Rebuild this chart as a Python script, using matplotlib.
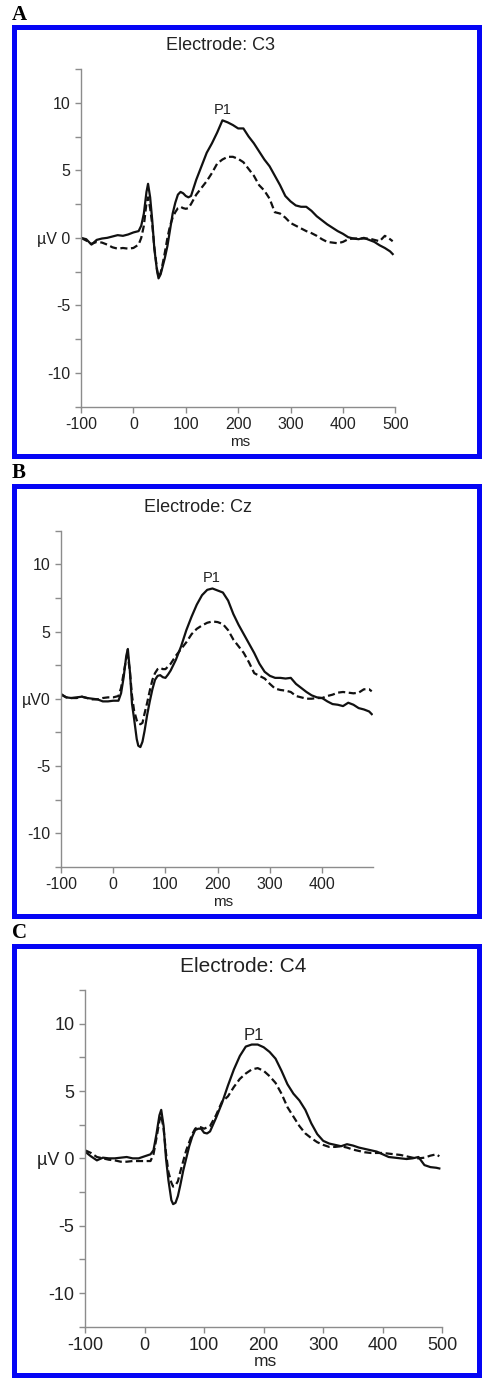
import matplotlib
matplotlib.use("Agg")
import matplotlib.pyplot as plt
from matplotlib.patches import Rectangle

W, H = 483, 1379
plt.rcParams['font.family'] = ['Liberation Sans', 'DejaVu Sans']

# time axis shared by all three electrodes (ms)
time_ms = [-100, -90, -80, -70, -60, -50, -40, -30, -20, -10, 0, 10, 15, 20, 25, 28, 32, 36,
           40, 45, 48, 52, 56, 60, 65, 70, 75, 80, 85, 90, 95, 100, 105, 110, 120, 130, 140,
           150, 160, 170, 180, 190, 200, 210, 220, 230, 240, 250, 260, 270, 280, 290, 300,
           310, 320, 330, 340, 350, 360, 370, 380, 390, 400, 410, 420, 430, 440, 450, 460,
           470, 480, 490, 495]

# amplitudes (uV)
c3_solid = [0.0, -0.1, -0.5, -0.15, -0.05, 0.0, 0.1, 0.2, 0.15, 0.25, 0.4, 0.5, 0.9, 1.8, 3.4,
            4.0, 3.0, 1.3, -0.8, -2.4, -3.0, -2.7, -2.1, -1.5, -0.6, 0.6, 1.8, 2.6, 3.2, 3.4,
            3.3, 3.1, 3.0, 3.1, 4.3, 5.3, 6.3, 7.0, 7.8, 8.7, 8.55, 8.35, 8.1, 8.1, 7.5, 7.0,
            6.4, 5.8, 5.3, 4.6, 3.9, 3.1, 2.7, 2.4, 2.3, 2.3, 2.0, 1.6, 1.3, 1.0, 0.75, 0.5,
            0.3, 0.05, -0.05, -0.1, 0.0, -0.15, -0.3, -0.55, -0.75, -1.0, -1.2]
c3_dash = [0.0, -0.2, -0.45, -0.3, -0.35, -0.5, -0.7, -0.8, -0.75, -0.8, -0.75, -0.5, 0.0, 0.9,
           2.6, 3.0, 2.2, 1.0, -0.7, -2.3, -2.9, -2.6, -1.9, -1.1, 0.0, 0.9, 1.5, 1.9, 2.2, 2.3,
           2.2, 2.15, 2.2, 2.5, 3.2, 3.7, 4.2, 4.8, 5.5, 5.8, 6.0, 6.0, 5.85, 5.6, 5.1, 4.6,
           3.9, 3.5, 2.9, 1.9, 1.8, 1.5, 1.1, 0.9, 0.7, 0.5, 0.35, 0.15, -0.1, -0.3, -0.35,
           -0.4, -0.3, -0.1, -0.05, -0.05, -0.05, -0.05, -0.15, -0.25, 0.15, -0.1, -0.25]

cz_solid = [0.35, 0.1, 0.05, 0.1, 0.15, 0.05, 0.0, -0.05, -0.2, -0.2, -0.15, -0.15, 0.4, 1.6,
            3.2, 3.7, 2.0, -0.4, -1.5, -3.0, -3.5, -3.6, -3.2, -2.4, -1.2, -0.2, 0.7, 1.4, 1.7,
            1.75, 1.6, 1.55, 1.8, 2.1, 2.9, 3.9, 5.1, 6.1, 7.0, 7.7, 8.1, 8.2, 8.05, 7.9, 7.3,
            6.3, 5.5, 4.8, 4.1, 3.4, 2.6, 2.0, 1.7, 1.55, 1.55, 1.5, 1.55, 1.1, 0.8, 0.5, 0.25,
            0.1, 0.05, -0.2, -0.4, -0.45, -0.55, -0.3, -0.45, -0.7, -0.8, -0.95, -1.15]
cz_dash = [0.3, 0.1, 0.05, 0.05, 0.15, 0.05, -0.05, -0.05, 0.05, 0.1, 0.1, 0.2, 0.8, 1.9, 3.0,
           3.2, 2.0, 0.2, -0.9, -1.6, -1.85, -1.9, -1.8, -1.1, -0.3, 0.6, 1.4, 1.9, 2.2, 2.3,
           2.2, 2.2, 2.4, 2.6, 3.2, 3.7, 4.2, 4.8, 5.2, 5.45, 5.65, 5.75, 5.7, 5.55, 5.1, 4.4,
           3.9, 3.4, 2.7, 1.9, 1.7, 1.5, 1.1, 0.75, 0.65, 0.6, 0.5, 0.2, 0.1, 0.0, 0.0, 0.05,
           0.05, 0.2, 0.3, 0.45, 0.5, 0.45, 0.4, 0.45, 0.7, 0.7, 0.55]

c4_solid = [0.5, 0.15, -0.15, 0.05, 0.0, 0.0, 0.05, 0.1, 0.0, 0.0, 0.15, 0.3, 0.6, 1.8, 3.2,
            3.6, 2.4, 0.0, -1.6, -3.1, -3.4, -3.3, -2.8, -2.0, -0.9, 0.0, 0.9, 1.6, 2.1, 2.2,
            2.2, 1.9, 1.85, 2.0, 3.0, 4.1, 5.4, 6.6, 7.6, 8.3, 8.45, 8.45, 8.25, 7.9, 7.4, 6.5,
            5.5, 4.8, 4.3, 3.6, 2.6, 1.8, 1.3, 1.1, 1.0, 0.9, 1.05, 0.95, 0.8, 0.7, 0.6, 0.5,
            0.3, 0.1, 0.05, 0.0, -0.05, 0.0, 0.1, -0.5, -0.65, -0.7, -0.75]
c4_dash = [0.6, 0.4, 0.1, 0.0, -0.1, -0.15, -0.25, -0.25, -0.2, -0.2, -0.2, -0.2, 0.3, 1.5, 2.8,
           3.2, 2.2, 0.4, -1.0, -1.8, -2.1, -2.0, -1.7, -1.0, -0.2, 0.6, 1.2, 1.8, 2.2, 2.35,
           2.3, 2.2, 2.3, 2.4, 3.2, 4.2, 4.6, 5.3, 5.9, 6.3, 6.6, 6.7, 6.5, 6.1, 5.6, 4.8,
           3.8, 3.1, 2.4, 1.85, 1.5, 1.2, 1.0, 0.85, 0.85, 0.9, 0.8, 0.65, 0.55, 0.45, 0.4,
           0.4, 0.4, 0.35, 0.3, 0.25, 0.15, 0.05, 0.0, 0.05, 0.2, 0.3, 0.15]

letters = ['A', 'B', 'C']
electrodes = ['C3', 'Cz', 'C4']
solids = [c3_solid, cz_solid, c4_solid]
dashes = [c3_dash, cz_dash, c4_dash]
p1_pos = [(171, 9.5), (189, 9.0), (183, 9.15)]
xmax = [500, 498, 500]
zero_label = ['µV 0', 'µV0', 'µV 0']

# layout in pixels (image coordinates, y from top)
axes_px = [(81, 69, 395.3, 406.7), (61, 530.7, 373.3, 866.7), (85, 990, 442.3, 1326.7)]
frame_px = [(27.5, 456), (486, 915.5), (946, 1374.5)]
title_px = [(220, 45), (198, 508), (243, 967)]
ms_px = [(240, 442), (223, 902), (265, 1362)]
letter_px = [(12, 15), (12, 473), (12, 933)]
tick_fs = [11.5, 11.5, 13]
title_fs = [13, 13, 15]


def fx(px):
    return px / W


def fy(py):
    return 1 - py / H


fig = plt.figure(figsize=(W / 100, H / 100), dpi=100)

for i in range(3):
    x0, y0, x1, y1 = axes_px[i]
    ax = fig.add_axes([fx(x0), fy(y1), fx(x1) - fx(x0), fy(y0) - fy(y1)])
    ax.plot(time_ms, solids[i], color='#111111', lw=1.6, solid_joinstyle='round')
    ax.plot(time_ms, dashes[i], color='#111111', lw=1.6, linestyle=(0, (3.2, 1.6)))
    ax.set_xlim(-100, xmax[i])
    ax.set_ylim(-12.5, 12.5)
    ax.set_facecolor('none')
    for s in ['top', 'right']:
        ax.spines[s].set_visible(False)
    for s in ['left', 'bottom']:
        ax.spines[s].set_color('#8c8c8c')
        ax.spines[s].set_linewidth(1.0)
    xt = [v for v in range(-100, 501, 100) if v <= xmax[i]]
    ax.set_xticks(xt)
    ax.set_xticklabels([str(v) for v in xt])
    ax.set_yticks([-10, -5, 0, 5, 10])
    ax.set_yticklabels(['-10', '-5', zero_label[i], '5', '10'])
    ax.set_yticks([-12.5, -7.5, -2.5, 2.5, 7.5, 12.5], minor=True)
    ax.tick_params(which='both', length=4.5, width=1.0, color='#8c8c8c',
                   labelsize=tick_fs[i], labelcolor='#222222', pad=3)
    ax.text(p1_pos[i][0], p1_pos[i][1], 'P1', ha='center', va='center',
            fontsize=tick_fs[i] - 1, color='#222222')

    fig.text(fx(title_px[i][0]), fy(title_px[i][1]), 'Electrode: ' + electrodes[i],
             ha='center', va='center', fontsize=title_fs[i], color='#222222')
    fig.text(fx(ms_px[i][0]), fy(ms_px[i][1]), 'ms', ha='center', va='center',
             fontsize=tick_fs[i] - 0.5, color='#222222')
    fig.text(fx(letter_px[i][0]), fy(letter_px[i][1]), letters[i], ha='left', va='center',
             fontsize=15, fontweight='bold', family='Liberation Serif')

    top, bottom = frame_px[i]
    fig.patches.append(Rectangle((fx(13.5), fy(bottom)), fx(478.5) - fx(13.5),
                                 fy(top) - fy(bottom), transform=fig.transFigure,
                                 fill=False, edgecolor='#0505f5', linewidth=3.6))

fig.savefig('out.png', dpi=100)
